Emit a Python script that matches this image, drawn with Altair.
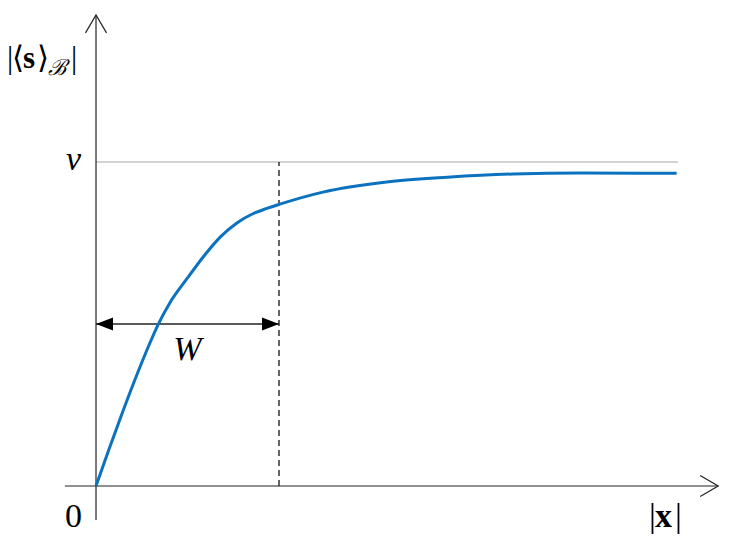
import altair as alt
import pandas as pd

# ---- data (normalised: W = 1, v = 1) ----
curve_x = [0.0, 0.07, 0.14, 0.21, 0.28, 0.34, 0.40, 0.50, 0.59, 0.68,
           0.77, 0.86, 0.93, 1.0, 1.24, 1.60, 1.92, 2.28, 2.65, 3.173]
curve_y = [0.0, 0.112, 0.220, 0.324, 0.422, 0.499, 0.562, 0.642, 0.710, 0.769,
           0.812, 0.841, 0.856, 0.869, 0.907, 0.939, 0.953, 0.963, 0.966, 0.965]
v_level = 1.0
W = 1.0
v_line_end = 3.18
x_axis_ext = [-0.17, 3.40]
y_axis_ext = [-0.105, 1.454]
arrow_level = 0.5

FONT = "Liberation Serif"
FS = 34
INK = "#222222"

XD = [-0.4809, 3.4536]
YD = [-0.1636, 1.4753]


def X(f="x"):
    return alt.X(f"{f}:Q", scale=alt.Scale(domain=XD, nice=False, zero=False), axis=None)


def Y(f="y"):
    return alt.Y(f"{f}:Q", scale=alt.Scale(domain=YD, nice=False, zero=False), axis=None)


curve_df = pd.DataFrame({"x": curve_x, "y": curve_y})
curve = alt.Chart(curve_df).mark_line(
    color="#0b72bf", strokeWidth=3, interpolate="monotone"
).encode(x=X(), y=Y())

# axes lines
axes_df = pd.DataFrame({
    "x": [x_axis_ext[0], 0.0],
    "x2": [x_axis_ext[1], 0.0],
    "y": [0.0, y_axis_ext[0]],
    "y2": [0.0, y_axis_ext[1]],
})
axes = alt.Chart(axes_df).mark_rule(color=INK, strokeWidth=1.2).encode(
    x=X(), x2="x2:Q", y=Y(), y2="y2:Q"
)

# v reference line
vline = alt.Chart(pd.DataFrame({"x": [0.0], "x2": [v_line_end], "y": [v_level]})).mark_rule(
    color="#c4c4c4", strokeWidth=1.3
).encode(x=X(), x2="x2:Q", y=Y())

# dashed line at W
dash = alt.Chart(pd.DataFrame({"x": [W], "y": [0.0], "y2": [v_level]})).mark_rule(
    color="#111111", strokeWidth=1.3, strokeDash=[6, 4]
).encode(x=X(), y=Y(), y2="y2:Q")

# double arrow line
warrow = alt.Chart(pd.DataFrame({"x": [0.0], "x2": [W], "y": [arrow_level]})).mark_rule(
    color=INK, strokeWidth=1.3
).encode(x=X(), x2="x2:Q", y=Y())

head_l = alt.Chart(pd.DataFrame({"x": [0.0], "y": [arrow_level]})).mark_point(
    shape="M0,0L17,-6.5L17,6.5Z", size=4, filled=True, color="black", opacity=1, strokeWidth=0
).encode(x=X(), y=Y())
head_r = alt.Chart(pd.DataFrame({"x": [W], "y": [arrow_level]})).mark_point(
    shape="M0,0L-17,-6.5L-17,6.5Z", size=4, filled=True, color="black", opacity=1, strokeWidth=0
).encode(x=X(), y=Y())

# axis arrow tips (open chevrons)
tip_x = alt.Chart(pd.DataFrame({"x": [x_axis_ext[1]], "y": [0.0]})).mark_point(
    shape="M-18,-10.5L0,0L-18,10.5", size=4, filled=False, color=INK, opacity=1, strokeWidth=1.2
).encode(x=X(), y=Y())
tip_y = alt.Chart(pd.DataFrame({"x": [0.0], "y": [y_axis_ext[1]]})).mark_point(
    shape="M-10.5,18L0,0L10.5,18", size=4, filled=False, color=INK, opacity=1, strokeWidth=1.2
).encode(x=X(), y=Y())

# data-anchored labels
lab_df = pd.DataFrame({
    "x": [0.0, 0.0, W / 2],
    "y": [v_level, 0.0, arrow_level],
    "t": ["v", "0", "W"],
})
lab_v = alt.Chart(lab_df.iloc[[0]]).mark_text(
    font=FONT, fontSize=FS, fontStyle="italic", align="right", baseline="alphabetic",
    dx=-15, dy=8, color="black"
).encode(x=X(), y=Y(), text="t:N")
lab_0 = alt.Chart(lab_df.iloc[[1]]).mark_text(
    font=FONT, fontSize=FS, align="right", baseline="alphabetic",
    dx=-14, dy=41, color="black"
).encode(x=X(), y=Y(), text="t:N")
lab_W = alt.Chart(lab_df.iloc[[2]]).mark_text(
    font=FONT, fontSize=FS, fontStyle="italic", align="center", baseline="alphabetic",
    dy=36, color="black"
).encode(x=X(), y=Y(), text="t:N")

one = pd.DataFrame({"a": [0]})


def ptext(s, px, py, fs=FS, weight="normal", style="normal", font=FONT):
    return alt.Chart(one).mark_text(
        text=s, font=font, fontSize=fs, fontWeight=weight, fontStyle=style,
        align="left", baseline="alphabetic", color="black"
    ).encode(x=alt.value(px), y=alt.value(py))


# |x| label (chart pixel coords = page - 8)
xl = [
    ptext("|", 641, 519),
    ptext("x", 647, 519, weight="bold"),
    ptext("|", 667, 519),
]
# |<s>_B| label
yl = [
    ptext("|", -1, 60, fs=31),
    ptext("⟨", 4, 60, fs=31, font="DejaVu Serif"),
    ptext("s", 15, 60, fs=31, weight="bold"),
    ptext("⟩", 29, 60, fs=31, font="DejaVu Serif"),
    ptext("ℬ", 40, 67, fs=22, font="DejaVu Serif", style="italic"),
    ptext("|", 63, 60, fs=31),
]

chart = alt.layer(
    vline, dash, axes, tip_x, tip_y, warrow, head_l, head_r, curve,
    lab_v, lab_0, lab_W, *xl, *yl
).properties(
    width=720, height=531, padding=0, autosize=alt.AutoSizeParams(type="none")
).configure_view(stroke=None)

chart.save("out.html", embed_options={"renderer": "svg", "actions": False})
